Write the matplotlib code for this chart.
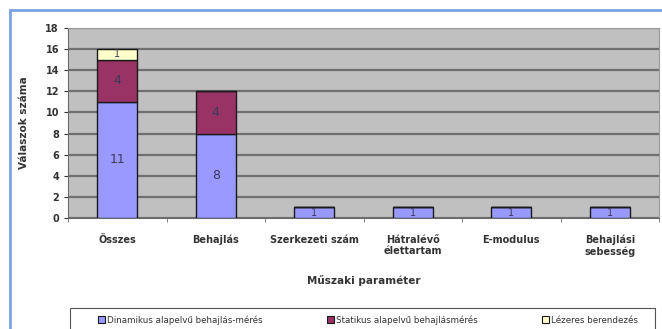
import matplotlib
matplotlib.use("Agg")
import matplotlib.pyplot as plt
from matplotlib.patches import Rectangle
import numpy as np

categories = ["Összes", "Behajlás", "Szerkezeti szám", "Hátralévő\nélettartam", "E-modulus", "Behajlási\nsebesség"]
dinamikus = [11, 8, 1, 1, 1, 1]
statikus = [4, 4, 0, 0, 0, 0]
lezeres = [1, 0, 0, 0, 0, 0]
series_names = ["Dinamikus alapelvű behajlás-mérés", "Statikus alapelvű behajlásmérés", "Lézeres berendezés"]
colors = ["#9999FF", "#993366", "#FFFFCC"]

fig = plt.figure(figsize=(6.62, 3.29), dpi=100)
fig.patch.set_facecolor("white")

# blue frame (right and bottom edges fall outside the image)
fig.patches.append(Rectangle((10/662, -0.05), 1.0, 1 - 10/329 + 0.05, transform=fig.transFigure,
                             fill=False, edgecolor="#7aa3df", linewidth=2))

ax = fig.add_axes([68/662, 1 - 218/329, 591/662, 190/329])
ax.set_facecolor("#c0c0c0")
x = np.arange(len(categories))
w = 0.41
bottoms = np.zeros(len(categories))
for vals, col in zip([dinamikus, statikus, lezeres], colors):
    vals = np.array(vals, dtype=float)
    ax.bar(x, vals, w, bottom=bottoms, color=col, edgecolor="#1a1a1a", linewidth=1.0, zorder=3)
    for xi, v, b in zip(x, vals, bottoms):
        if v > 0:
            fs = 9 if v > 1 else 7
            ax.text(xi, b + v / 2, f"{int(v)}", ha="center", va="center", fontsize=fs,
                    color="#3a3a5a", zorder=4)
    bottoms += vals

ax.set_ylim(0, 18)
ax.set_xlim(-0.5, len(categories) - 0.5)
ax.set_yticks(range(0, 19, 2))
ax.yaxis.grid(True, color="#707070", linewidth=1.6, zorder=1)
ax.set_axisbelow(True)
for s in ["top", "right"]:
    ax.spines[s].set_color("#9a9a9a")
ax.spines["left"].set_color("#6a6a6a")
ax.spines["bottom"].set_color("#6a6a6a")
ax.set_xticks(x)
ax.set_xticklabels(categories, fontsize=7, color="#333333", fontweight="bold")
ax.tick_params(axis="x", length=0, pad=12)
ax.tick_params(axis="y", labelsize=7, colors="#333333", length=3)
for lab in ax.get_yticklabels():
    lab.set_fontweight("bold")
ax.set_xticks(np.arange(-0.5, len(categories), 1), minor=True)
ax.tick_params(axis="x", which="minor", length=3, color="#6a6a6a")
ax.set_ylabel("Válaszok száma", fontsize=7.5, color="#333333", fontweight="bold", labelpad=12)
ax.set_xlabel("Műszaki paraméter", fontsize=7.5, color="#333333", fontweight="bold", labelpad=13)

# legend frame
fig.patches.append(Rectangle((70/662, -0.05), 585/662, 0.05 + (329 - 308)/329, transform=fig.transFigure,
                             fill=True, facecolor="white", edgecolor="#555555", linewidth=0.8))
handles = [Rectangle((0, 0), 1, 1, facecolor=c, edgecolor="#1a1a1a", linewidth=0.8) for c in colors]
leg = fig.legend(handles, series_names, loc="center", bbox_to_anchor=(368/662, 1 - 320/329),
                 ncol=3, fontsize=6.3, frameon=False,
                 handlelength=0.8, handleheight=0.8, handletextpad=0.2, columnspacing=7.4)
for t in leg.get_texts():
    t.set_color("#333333")

fig.savefig("out.png", dpi=100)
